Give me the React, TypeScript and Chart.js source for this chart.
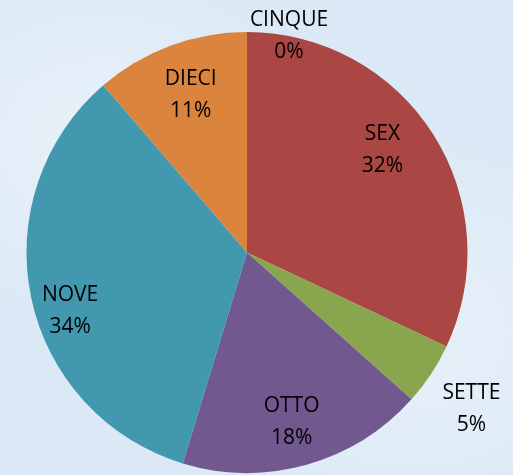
import React, { useEffect, useRef } from "react";
import { Chart, registerables } from "chart.js";

Chart.register(...registerables);

const categories = ["CINQUE", "SEX", "SETTE", "OTTO", "NOVE", "DIECI"];
const values = [0, 32, 4.6, 18.1, 34, 11.3];
const colors = ["#4572A7", "#AA4643", "#89A54E", "#71588F", "#4198AF", "#DB843D"];

// label placement (fraction of radius along mid-angle + pixel nudge)
const labelFactor = [1.0, 0.77, 1.22, 0.8, 0.82, 0.76];
const labelShift: [number, number][] = [
  [42, 4],
  [-8, -12],
  [0, 8],
  [-3, 0],
  [0, 21],
  [2, 0],
];

const labelPlugin = {
  id: "pieLabels",
  afterDatasetsDraw(chart: any) {
    const meta = chart.getDatasetMeta(0);
    const data = chart.data.datasets[0].data as number[];
    const total = data.reduce((a, b) => a + b, 0);
    const ctx = chart.ctx;
    ctx.save();
    ctx.font = '21px "Open Sans"';
    ctx.fillStyle = "#000000";
    ctx.textAlign = "center";
    ctx.textBaseline = "middle";
    meta.data.forEach((arc: any, i: number) => {
      const p = arc.getProps(["x", "y", "startAngle", "endAngle", "outerRadius"], true);
      const mid = (p.startAngle + p.endAngle) / 2;
      const r = p.outerRadius * labelFactor[i];
      const cx = p.x + Math.cos(mid) * r + labelShift[i][0];
      const cy = p.y + Math.sin(mid) * r + labelShift[i][1];
      const pct = Math.round((data[i] / total) * 100) + "%";
      ctx.fillText(chart.data.labels[i], cx, cy - 16);
      ctx.fillText(pct, cx, cy + 16);
    });
    ctx.restore();
  },
};

export default function App() {
  const ref = useRef<HTMLCanvasElement>(null);
  useEffect(() => {
    const chart = new Chart(ref.current!, {
      type: "pie",
      data: {
        labels: categories,
        datasets: [
          {
            data: values,
            backgroundColor: colors,
            borderWidth: 0,
          },
        ],
      },
      options: {
        animation: false,
        responsive: false,
        maintainAspectRatio: false,
        layout: { padding: { left: 0, right: 19, top: 32, bottom: 2 } },
        plugins: {
          legend: { display: false },
          tooltip: { enabled: false },
        },
      },
      plugins: [labelPlugin],
    });
    return () => chart.destroy();
  }, []);
  return (
    <div
      style={{
        position: "fixed",
        left: 0,
        top: 0,
        width: 513,
        height: 475,
        background:
          "radial-gradient(ellipse at 20% 30%, rgba(255,255,255,0.4), rgba(255,255,255,0) 40%), radial-gradient(ellipse at 80% 70%, rgba(255,255,255,0.35), rgba(255,255,255,0) 45%), #dbe9f6",
      }}
    >
      <canvas ref={ref} width={513} height={475} style={{ display: "block" }} />
    </div>
  );
}
